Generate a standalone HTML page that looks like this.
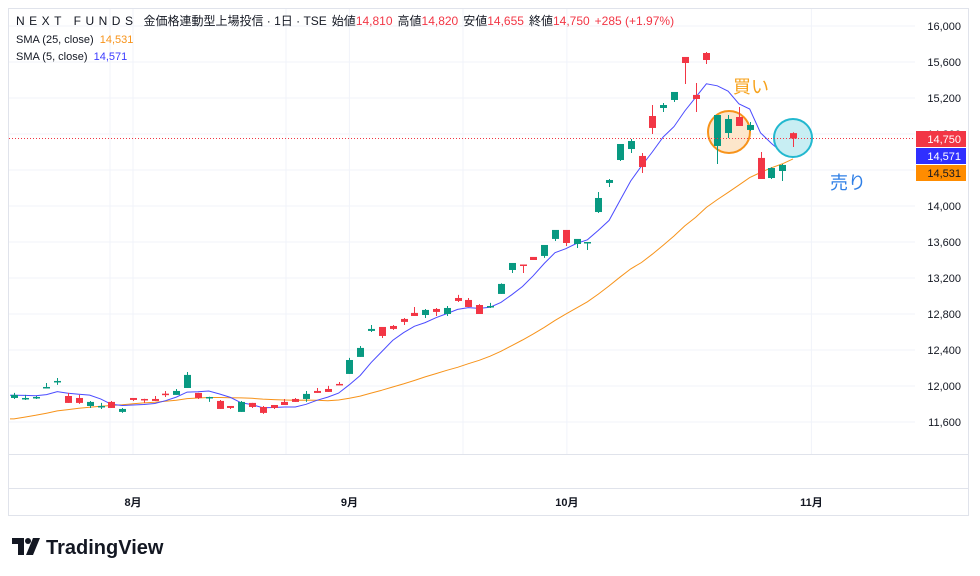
<!DOCTYPE html>
<html><head><meta charset="utf-8"><style>
body{margin:0;background:#fff;font-family:"Liberation Sans","Noto Sans CJK JP",sans-serif;}
#wrap{position:relative;width:980px;height:576px;overflow:hidden;}
svg text{font-family:"Liberation Sans","Noto Sans CJK JP",sans-serif;}
</style></head><body>
<div id="wrap">
<svg id="chart" width="980" height="576" xmlns="http://www.w3.org/2000/svg"></svg>
</div>
<script>
// ---- data ----
const opens  = [11867,11862,11870,11985,12050,11889,11867,11778,11775,11823,11712,11867,11856,11856,11915,11901,11978,11923,11875,11834,11778,11712,11812,11767,11789,11823,11856,11856,11945,11967,12023,12134,12323,12612,12656,12667,12745,12812,12789,12856,12800,12978,12956,12900,12880,13023,13289,13350,13434,13445,13634,13734,13578,13595,13933,14256,14511,14633,14556,15000,15089,15178,15656,15234,15700,14667,14811,14989,14845,14534,14311,14389,14810];
const highs  = [11923,11901,11889,12034,12089,11923,11901,11834,11812,11834,11756,11867,11858,11889,11945,11967,12156,11923,11880,11845,11778,11834,11812,11778,11789,11856,11867,11945,11978,12001,12045,12312,12445,12678,12656,12678,12756,12878,12856,12867,12889,13012,12978,12910,12923,13140,13367,13350,13434,13567,13734,13734,13634,13600,14156,14300,14689,14745,14589,15122,15145,15267,15656,15367,15711,15011,15011,15100,14934,14600,14430,14467,14820];
const lows   = [11856,11845,11856,11985,12012,11812,11801,11756,11745,11756,11701,11834,11812,11834,11878,11901,11978,11856,11823,11745,11745,11712,11756,11690,11745,11789,11823,11823,11923,11934,12012,12134,12323,12600,12534,12623,12678,12778,12756,12778,12778,12934,12878,12800,12867,13023,13256,13256,13400,13423,13611,13556,13533,13511,13922,14211,14500,14589,14367,14800,15045,15156,15356,15045,15578,14467,14756,14889,14834,14300,14300,14278,14655];
const closes = [11901,11867,11878,11989,12056,11812,11812,11823,11778,11756,11745,11845,11850,11834,11910,11945,12123,11867,11878,11745,11756,11823,11767,11701,11756,11789,11823,11912,11923,11934,12012,12289,12423,12634,12556,12634,12712,12778,12845,12823,12867,12945,12878,12800,12889,13134,13367,13340,13400,13567,13734,13589,13634,13600,14089,14289,14689,14722,14433,14867,15122,15267,15589,15189,15622,15011,14967,14889,14900,14300,14422,14456,14750];
const priorCloses = [11350,11380,11400,11420,11450,11470,11500,11520,11540,11560,11580,11600,11620,11640,11660,11680,11700,11730,11760,11800,11880,11900,11920,11890];
const priceTicks = [16000,15600,15200,14800,14400,14000,13600,13200,12800,12400,12000,11600];
const monthLabels = ["8月","9月","10月","11月"];
const monthIndex = [11.0,31.0,51.1,73.7];

// ---- scales ----
const X0=14, STEP=(793-14)/72;
const x = i => X0 + i*STEP;
const y = p => 26 + (16000-p)*0.09;
const NS='http://www.w3.org/2000/svg';
const svg=document.getElementById('chart');
function mk(tag, attrs, parent){const e=document.createElementNS(NS,tag);for(const k in attrs)e.setAttribute(k,attrs[k]);(parent||svg).appendChild(e);return e;}

// frame & grid
const grid=mk('g',{});


mk('rect',{x:8.5,y:8.5,width:960,height:507,fill:'none',stroke:'#e0e3eb'},grid);
priceTicks.forEach(p=>{mk('line',{x1:9,x2:915,y1:y(p),y2:y(p),stroke:'#f0f3fa'},grid);});
[110,286,463].forEach(v=>mk('line',{x1:v,x2:v,y1:9,y2:454,stroke:'#f0f3fa'},grid));
monthIndex.forEach(m=>{mk('line',{x1:x(m),x2:x(m),y1:9,y2:454,stroke:'#f0f3fa'},grid);});
mk('line',{x1:9,x2:968,y1:454.5,y2:454.5,stroke:'#e0e3eb'},grid);
mk('line',{x1:9,x2:968,y1:488.5,y2:488.5,stroke:'#e0e3eb'},grid);

// price axis labels
priceTicks.forEach(p=>{
  const t=mk('text',{x:961,y:y(p)+4,'text-anchor':'end','font-size':11,fill:'#131722'});
  t.textContent=p.toLocaleString('en-US');
  
  
});
// month labels
monthLabels.forEach((m,i)=>{
  const t=mk('text',{x:x(monthIndex[i]),y:506,'text-anchor':'middle','font-size':11,'font-weight':'bold',fill:'#131722'});
  t.textContent=m;
  
  
});

// SMAs
const all=priorCloses.concat(closes);
function sma(n){return closes.map((c,i)=>{const j=i+priorCloses.length;let s=0;for(let k=j-n+1;k<=j;k++)s+=all[k];return s/n;});}
const sma25=sma(25), sma5=sma(5);
function linePath(arr){return arr.map((v,i)=>(i?'L':'M')+x(i).toFixed(1)+' '+y(v).toFixed(1)).join(' ');}
const l25=mk('path',{d:'M10 '+y(sma25[0]).toFixed(1)+' '+linePath(sma25).replace('M','L'),fill:'none',stroke:'#f7931a','stroke-width':1});


const l5=mk('path',{d:'M10 '+y(sma5[0]).toFixed(1)+' '+linePath(sma5).replace('M','L'),fill:'none',stroke:'#4b4bff','stroke-width':1});



// annotations circles (behind candles)
const c1=mk('circle',{cx:729,cy:132,r:21,fill:'#fde6cb',stroke:'#f7931a','stroke-width':2});


const c2=mk('circle',{cx:793,cy:138,r:19,fill:'#c8eef3',stroke:'#22b8cf','stroke-width':2});



// candles
opens.forEach((o,i)=>{
  const c=closes[i], up=c>=o, col=up?'#089981':'#f23645';
  const g=mk('g',{});
  
  
  const cx=Math.round(x(i))+0.5;
  mk('line',{x1:cx,x2:cx,y1:y(highs[i]),y2:y(lows[i]),stroke:col,'stroke-width':1},g);
  const top=y(Math.max(o,c)), h=Math.max(1.5,Math.abs(y(o)-y(c)));
  mk('rect',{x:cx-3.5,y:top,width:7,height:h,fill:col},g);
});

// last price dotted line
const lp=closes[closes.length-1];
const dl=mk('line',{x1:9,x2:915,y1:y(lp),y2:y(lp),stroke:'#f23645','stroke-dasharray':'1 2'});



// price tags
function tag(v,bg,fg,name,yy){
  const g=mk('g',{});
  
  
  mk('rect',{x:916,y:yy-8,width:50,height:16,fill:bg},g);
  const t=mk('text',{x:961,y:yy+4,'text-anchor':'end','font-size':11,fill:fg},g);
  t.textContent=Math.round(v).toLocaleString('en-US');
}
tag(lp,'#f23645','#fff','last-price-tag',139);
tag(14571,'#2f2fff','#fff','sma5-price-tag',156);
tag(14531,'#ff8c00','#131722','sma25-price-tag',173);

// annotation text
const bt=mk('text',{x:733,y:93,'font-size':18,fill:'#f7a21b'});bt.textContent='買い';


const st=mk('text',{x:830,y:189,'font-size':18,fill:'#2f7fe6'});st.textContent='売り';



// header
const h=mk('text',{x:16,y:25,'font-size':12,fill:'#131722'});


h.innerHTML='<tspan letter-spacing="4.5">NEXT FUNDS</tspan><tspan dx="6">金価格連動型上場投信 · 1日 · TSE</tspan><tspan dx="5">始値</tspan><tspan fill="#f23645">14,810</tspan><tspan dx="5">高値</tspan><tspan fill="#f23645">14,820</tspan><tspan dx="5">安値</tspan><tspan fill="#f23645">14,655</tspan><tspan dx="5">終値</tspan><tspan fill="#f23645">14,750</tspan><tspan dx="5" fill="#f23645">+285 (+1.97%)</tspan>';
const s1=mk('text',{x:16,y:43,'font-size':11,fill:'#131722'});


s1.innerHTML='SMA (25, close) <tspan dx="3" fill="#f7931a">14,531</tspan>';
const s2=mk('text',{x:16,y:60,'font-size':11,fill:'#131722'});


s2.innerHTML='SMA (5, close) <tspan dx="3" fill="#3b3bff">14,571</tspan>';

// logo
const lg=mk('g',{});


mk('path',{d:'M12 538 H24 V555 H18 V544 H12 Z',fill:'#131722'},lg);
mk('circle',{cx:28,cy:541,r:3,fill:'#131722'},lg);
mk('path',{d:'M33 538 H40 L33 555 H26 Z',fill:'#131722'},lg);
const lt=mk('text',{x:46,y:554,'font-size':20,'font-weight':'bold',fill:'#131722'},lg);
lt.textContent='TradingView';
</script>
</body></html>
